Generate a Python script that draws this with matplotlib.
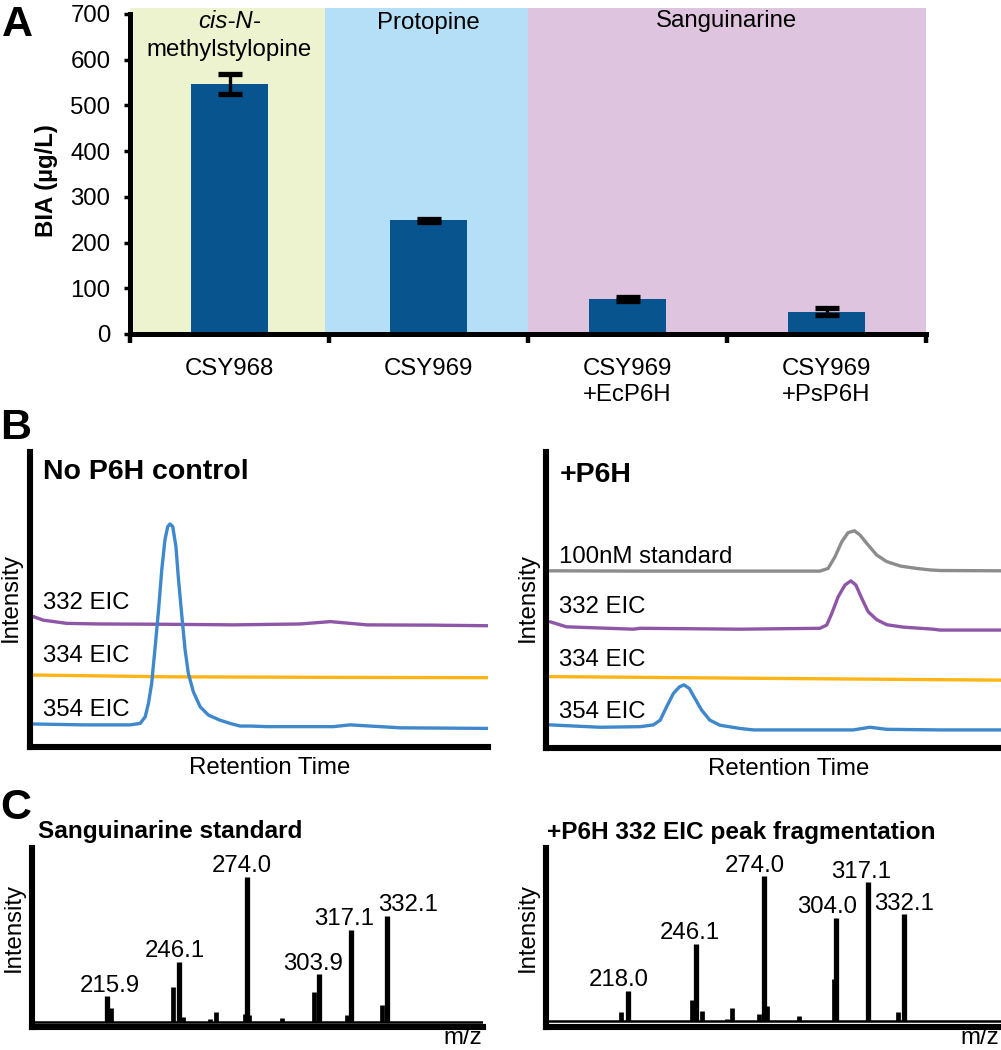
import matplotlib
matplotlib.use("Agg")
import matplotlib.pyplot as plt
from matplotlib.transforms import offset_copy, blended_transform_factory

plt.rcParams['font.family'] = ['Liberation Sans', 'DejaVu Sans']

# ---------------- Panel A data ----------------
strains = ['CSY968', 'CSY969', 'CSY969\n+EcP6H', 'CSY969\n+PsP6H']
bia = [546, 249, 77, 49]
bia_err = [22, 3, 4, 8]
yticks_A = [0, 100, 200, 300, 400, 500, 600, 700]
groups = ['cis-N-\nmethylstylopine', 'Protopine', 'Sanguinarine']
group_start = [-0.5, 0.48, 1.5]
group_end = [0.48, 1.5, 3.52]
group_colors = ['#EEF3CF', '#B5DFF6', '#DFC4E0']

# ---------------- Panel B data (retention time a.u., intensity a.u.) ----------------
ctrl_332_t = [0.7, 2.8, 8.0, 15.2, 29.8, 44.4, 58.9, 65.5, 73.5, 88.0, 100]
ctrl_332_i = [44.1, 42.9, 41.8, 41.6, 41.5, 41.3, 41.6, 42.4, 41.3, 41.2, 41.0]
ctrl_334_t = [0.7, 29.8, 66.2, 100]
ctrl_334_i = [24.3, 23.7, 23.5, 23.4]
ctrl_354_t = [0.7, 11.6, 21.8, 24.0, 25.1, 25.8, 26.5, 27.2, 28.0, 28.7, 29.4, 30.0,
              30.5, 31.1, 31.8, 32.3, 33.1, 33.8, 34.5, 35.6, 37.1, 38.9, 41.4, 43.6,
              45.8, 48.0, 51.7, 66.2, 69.8, 80.8, 100]
ctrl_354_i = [7.7, 7.4, 7.4, 7.9, 10.2, 14.7, 21.5, 32.8, 46.3, 59.9, 70.1, 74.6,
              75.5, 74.6, 67.8, 57.7, 44.1, 32.8, 24.9, 18.6, 13.5, 10.7, 9.0, 7.9,
              7.0, 7.0, 6.8, 6.8, 7.4, 6.4, 6.2]

p6h_std_t = [0.9, 20.7, 53.6, 60.2, 62.0, 63.5, 65.0, 66.4, 67.8, 69.0, 70.8, 72.7,
             74.9, 77.9, 81.5, 84.4, 86.6, 100]
p6h_std_i = [59.8, 59.7, 59.7, 59.7, 60.6, 64.5, 69.6, 72.7, 73.3, 71.9, 68.5, 65.1,
             62.9, 61.4, 60.6, 60.1, 59.9, 59.8]
p6h_332_t = [0.9, 4.5, 19.2, 20.7, 42.6, 60.2, 61.7, 62.8, 64.2, 65.7, 67.0, 68.1,
             69.4, 70.8, 72.7, 74.9, 78.5, 85.1, 86.6, 100]
p6h_332_i = [42.6, 40.9, 40.1, 40.4, 40.1, 40.4, 41.5, 45.4, 51.0, 55.0, 56.4, 55.0,
             50.5, 46.0, 43.3, 41.6, 40.8, 40.1, 39.8, 39.8]
p6h_334_t = [0.9, 48.5, 100]
p6h_334_i = [24.1, 23.5, 22.9]
p6h_354_t = [0.9, 11.9, 20.7, 23.6, 25.1, 26.5, 28.0, 29.3, 30.3, 31.5, 32.7, 34.2,
             36.0, 38.2, 42.6, 45.6, 67.5, 71.2, 74.9, 86.6, 100]
p6h_354_i = [7.8, 7.0, 7.2, 7.8, 9.4, 13.9, 18.4, 20.6, 21.3, 20.1, 16.8, 12.8,
             9.4, 7.7, 6.6, 6.1, 6.1, 7.0, 6.3, 6.1, 6.1]

trace_colors = {'std': '#8C8C8C', '332': '#8E56A6', '334': '#FDB515', '354': '#3F88CC'}

# ---------------- Panel C data (m/z, relative intensity %) ----------------
std_mz = [215.9, 246.1, 274.0, 303.9, 317.1, 332.1]
std_int = [14.8, 34.6, 83.7, 27.3, 52.9, 61.0]
std_minor_mz = [217.8, 243.4, 247.5, 258.6, 261.1, 273.3, 274.8, 288.5, 302.0, 315.6, 330.3]
std_minor_int = [7.7, 19.8, 2.5, 1.3, 5.4, 4.5, 4.0, 1.9, 17.3, 3.8, 9.6]
std_labels = ['215.9', '246.1', '274.0', '303.9', '317.1', '332.1']

frag_mz = [218.0, 246.1, 274.0, 304.0, 317.1, 332.1]
frag_int = [17.6, 44.8, 83.7, 59.8, 80.3, 61.7]
frag_minor_mz = [215.2, 244.3, 248.5, 259.0, 261.0, 272.0, 275.4, 288.4, 303.0, 329.6]
frag_minor_int = [5.2, 12.5, 6.1, 1.7, 7.7, 4.2, 9.0, 3.3, 24.3, 5.2]
frag_labels = ['218.0', '246.1', '274.0', '304.0', '317.1', '332.1']

# ---------------- figure ----------------
W, H = 1001, 1050
fig = plt.figure(figsize=(W / 100, H / 100), dpi=100)
FS = 17.3


def px_axes(l, t, r, b):
    return fig.add_axes([l / W, 1 - b / H, (r - l) / W, (b - t) / H])


def ftext(x, y, s, **kw):
    kw.setdefault('fontsize', FS)
    kw.setdefault('va', 'baseline')
    return fig.text(x / W, 1 - y / H, s, **kw)


# ======== Panel A ========
axA = px_axes(130, 8, 926, 334)
axA.set_xlim(-0.5, 3.5)
axA.set_ylim(0, 700 * (334 - 8) / (334 - 14))
for s0, s1, c in zip(group_start, group_end, group_colors):
    axA.axvspan(s0, s1, color=c, lw=0, zorder=0)
xs = list(range(len(strains)))
axA.bar(xs, bia, width=0.39, color='#08548F', zorder=2)
axA.errorbar(xs, bia, yerr=bia_err, fmt='none', ecolor='black', elinewidth=2.4,
             capsize=8.5, capthick=3.8, zorder=3)
for side in ['top', 'right']:
    axA.spines[side].set_visible(False)
axA.spines['left'].set_linewidth(3.6)
axA.spines['bottom'].set_linewidth(3.6)
axA.spines['left'].set_bounds(0, 700)
axA.set_yticks(yticks_A)
axA.set_yticklabels([str(v) for v in yticks_A])
axA.tick_params(axis='y', direction='out', length=4, width=2.5, labelsize=FS, pad=10)
axA.set_xticks([-0.5, 0.5, 1.5, 2.5, 3.5])
axA.set_xticklabels([])
axA.tick_params(axis='x', direction='out', length=6.5, width=3.2)
axA.set_facecolor('none')

# category labels
tA = blended_transform_factory(axA.transData, fig.transFigure)
for i, lab in enumerate(strains):
    for k, line in enumerate(lab.split('\n')):
        fig.text(i, 1 - (375 + 26 * k) / H, line, transform=tA, ha='center',
                 va='baseline', fontsize=FS)

# group annotations
gx = [(group_start[i] + min(group_end[i], 3.5)) / 2 for i in range(3)]
fig.text(0.0, 1 - 27.6 / H, 'cis-N-', transform=tA, fontsize=FS, style='italic',
         ha='center', va='baseline')
fig.text(0.0, 1 - 56 / H, 'methylstylopine', transform=tA, fontsize=FS,
         ha='center', va='baseline')
fig.text(1.0, 1 - 29 / H, groups[1], transform=tA, fontsize=FS, ha='center', va='baseline')
fig.text(gx[2], 1 - 27 / H, groups[2], transform=tA, fontsize=FS, ha='center', va='baseline')

ftext(46, 181, 'BIA (µg/L)', rotation=90, ha='center', va='center', fontweight='bold')
ftext(2, 36, 'A', fontsize=31, fontweight='bold')


# ======== Panel B ========
def style_chrom(ax):
    ax.set_xlim(0, 100)
    ax.set_ylim(0, 100)
    for side in ['top', 'right']:
        ax.spines[side].set_visible(False)
    for side in ['left', 'bottom']:
        ax.spines[side].set_linewidth(4.4)
    ax.set_xticks([])
    ax.set_yticks([])
    ax.set_facecolor('none')


def trace(ax, t, i, c):
    ax.plot(t, i, color=c, lw=2.4, solid_joinstyle='round', solid_capstyle='round')


axB1 = px_axes(30.3, 451.7, 488.3, 746.7)
style_chrom(axB1)
trace(axB1, ctrl_332_t, ctrl_332_i, trace_colors['332'])
trace(axB1, ctrl_334_t, ctrl_334_i, trace_colors['334'])
trace(axB1, ctrl_354_t, ctrl_354_i, trace_colors['354'])

axB2 = px_axes(546, 451.7, 1001, 748)
style_chrom(axB2)
trace(axB2, p6h_std_t, p6h_std_i, trace_colors['std'])
trace(axB2, p6h_332_t, p6h_332_i, trace_colors['332'])
trace(axB2, p6h_334_t, p6h_334_i, trace_colors['334'])
trace(axB2, p6h_354_t, p6h_354_i, trace_colors['354'])

ftext(0, 439, 'B', fontsize=31, fontweight='bold')
ftext(43.3, 479.3, 'No P6H control', fontsize=20.5, fontweight='bold')
ftext(43.3, 609.3, '332 EIC')
ftext(43.3, 661.7, '334 EIC')
ftext(43.3, 716, '354 EIC')
ftext(270, 774, 'Retention Time', ha='center')
ftext(11, 598, 'Intensity', rotation=90, ha='center', va='center')

ftext(559.3, 481.7, '+P6H', fontsize=20.5, fontweight='bold')
ftext(559.3, 563.3, '100nM standard')
ftext(559.3, 613.3, '332 EIC')
ftext(559.3, 665.7, '334 EIC')
ftext(559.3, 718.3, '354 EIC')
ftext(788.5, 775, 'Retention Time', ha='center')
ftext(527.5, 598, 'Intensity', rotation=90, ha='center', va='center')


# ======== Panel C ========
def draw_spectrum(ax, xlim, mz, inten, mmz, mint, labels, dxs):
    ax.set_xlim(*xlim)
    ax.set_ylim(-3.2, 100)
    ax.plot(list(xlim), [0, 0], color='black', lw=1.8, zorder=2)
    ax.vlines(mmz, 0, mint, color='black', lw=3.4, zorder=3)
    ax.vlines(mz, 0, inten, color='black', lw=3.8, zorder=3)
    for m, v, lab, dx in zip(mz, inten, labels, dxs):
        tr = offset_copy(ax.transData, fig=fig, x=dx, y=4.5, units='dots')
        ax.text(m, v, lab, transform=tr, ha='center', va='baseline', fontsize=FS)
    for side in ['top', 'right']:
        ax.spines[side].set_visible(False)
    for side in ['left', 'bottom']:
        ax.spines[side].set_linewidth(4.4)
    ax.set_xticks([])
    ax.set_yticks([])
    ax.set_facecolor('none')


axC1 = px_axes(32, 848.3, 483.3, 1027.3)
draw_spectrum(axC1, (184.9, 372.2), std_mz, std_int, std_minor_mz, std_minor_int,
              std_labels, [3, -5, -5, -6, -6, 21])
axC2 = px_axes(546, 848, 1001, 1027)
draw_spectrum(axC2, (184.0, 372.1), frag_mz, frag_int, frag_minor_mz, frag_minor_int,
              frag_labels, [-9, -6, -9, -9, -7, 0])

ftext(0, 819, 'C', fontsize=31, fontweight='bold')
ftext(38.3, 838.3, 'Sanguinarine standard', fontsize=17.6, fontweight='bold')
ftext(546.7, 839.3, '+P6H 332 EIC peak fragmentation', fontsize=17.6, fontweight='bold')
ftext(13.5, 928, 'Intensity', rotation=90, ha='center', va='center')
ftext(527.5, 928, 'Intensity', rotation=90, ha='center', va='center')
ftext(443, 1044, 'm/z')
ftext(960, 1044, 'm/z')

fig.savefig('out.png', dpi=100)
